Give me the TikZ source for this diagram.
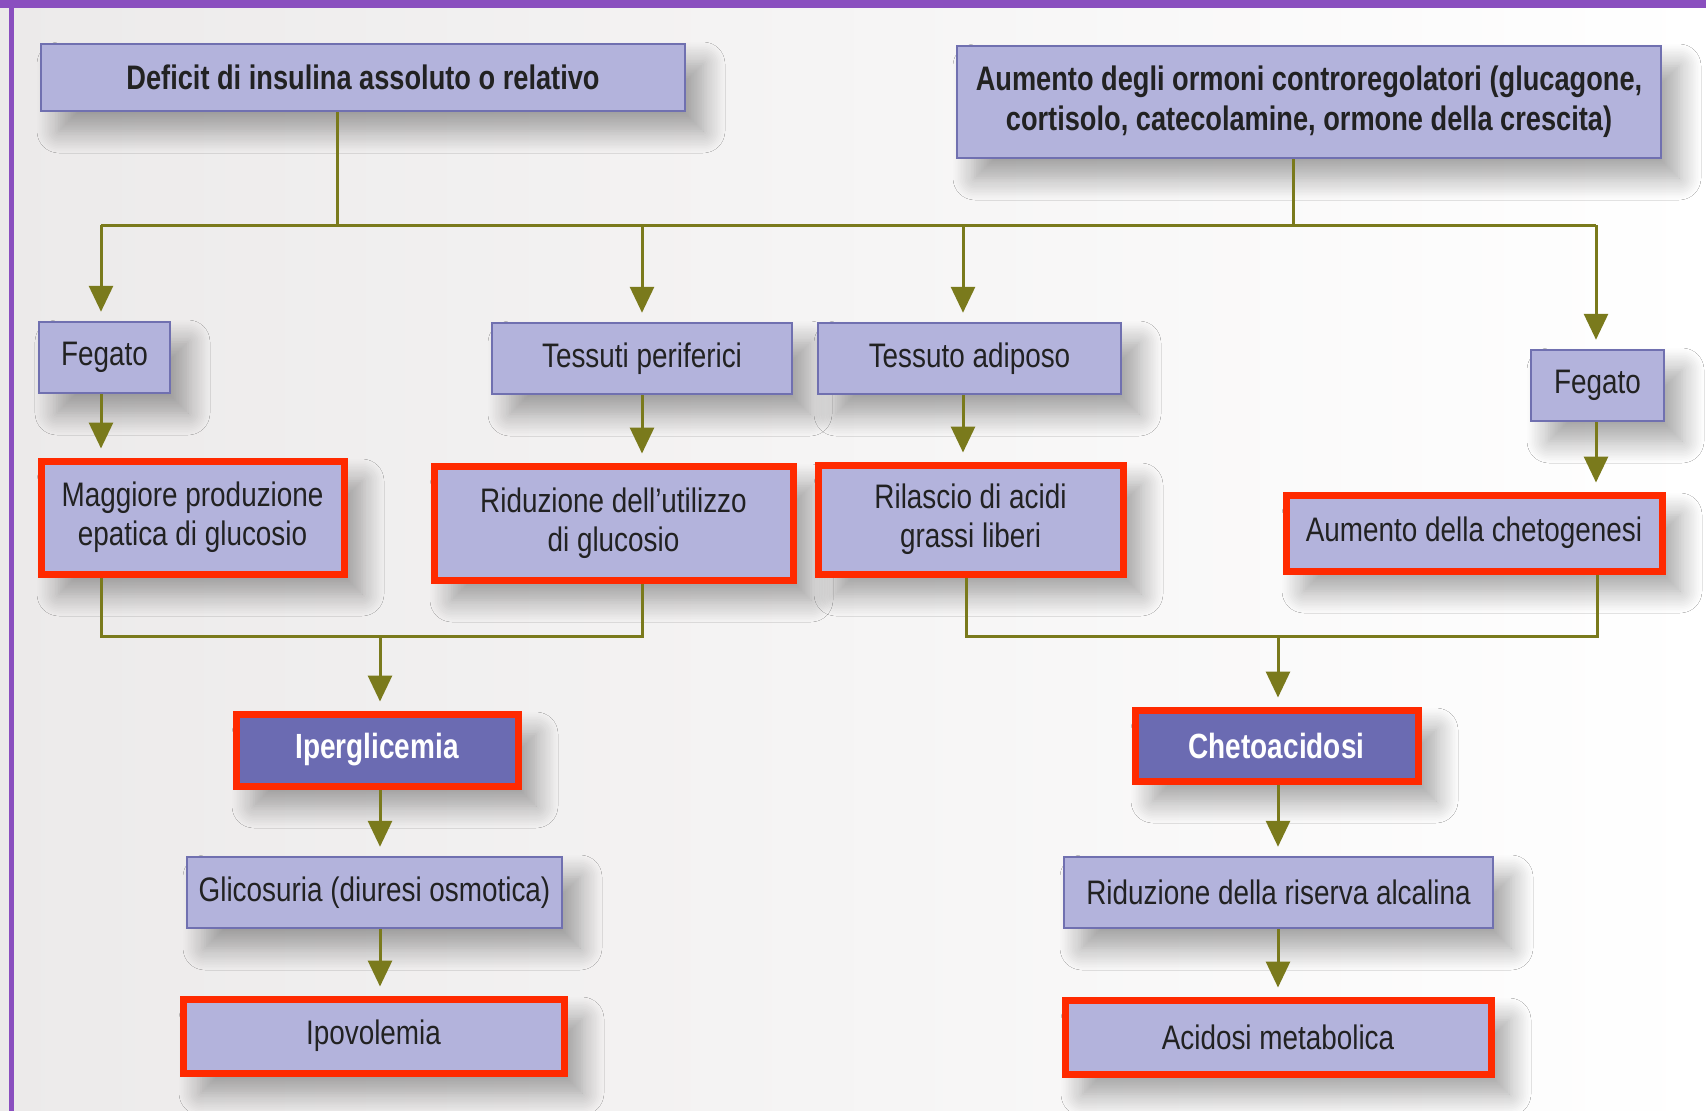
\documentclass[tikz,border=0pt]{standalone}
\usepackage{fontspec}
\setmainfont[FakeStretch=0.82, BoldFeatures={FakeStretch=0.8}]{Liberation Sans}
\usetikzlibrary{arrows.meta,shadows.blur}
\definecolor{boxfill}{HTML}{B3B3DC}
\definecolor{boxline}{HTML}{7070B0}
\definecolor{darkfill}{HTML}{6B6BB2}
\definecolor{redc}{HTML}{FF2A00}
\definecolor{olive}{HTML}{7A7A1C}
\definecolor{purp}{HTML}{8A4FBF}
\definecolor{bgl}{HTML}{ECEAEA}
\definecolor{txt}{HTML}{222222}
\tikzset{
  box/.style={draw=boxline, line width=2.5pt, fill=boxfill, align=center,
    text=txt, font=\fontsize{34}{39}\selectfont, inner sep=0pt,
    blur shadow={shadow xshift=18pt, shadow yshift=-20pt, shadow blur radius=22pt, shadow blur steps=14, shadow opacity=36}},
  redbox/.style={box, draw=redc, line width=7pt},
  darkbox/.style={redbox, fill=darkfill, text=white, font=\fontsize{35}{39}\selectfont\bfseries},
  boldbox/.style={box, font=\fontsize{34}{40}\selectfont\bfseries},
  conn/.style={draw=olive, line width=3pt},
  arr/.style={conn, -{Triangle[width=24pt,length=26pt]}, shorten >=9pt},
}
\begin{document}
\begin{tikzpicture}[x=1pt,y=-1pt]
\useasboundingbox (0,0) rectangle (1706,1111);
\shade[left color=bgl, right color=white] (0,0) rectangle (1706,1111);
\fill[purp] (0,0) rectangle (1706,8);
\fill[purp] (9,0) rectangle (14,1111);

% top boxes
\node[boldbox, minimum width=644pt, minimum height=67pt] (A) at (363,77.5) {Deficit di insulina assoluto o relativo};
\node[boldbox, minimum width=704pt, minimum height=112pt] (B) at (1309,102) {Aumento degli ormoni controregolatori (glucagone,\\cortisolo, catecolamine, ormone della crescita)};

% organs
\node[box, minimum width=131pt, minimum height=71pt] (F1) at (104.5,357.5) {Fegato};
\node[box, minimum width=300pt, minimum height=71pt] (TP) at (642,358.5) {Tessuti periferici};
\node[box, minimum width=303pt, minimum height=71pt] (TA) at (969.5,358.5) {Tessuto adiposo};
\node[box, minimum width=133pt, minimum height=71pt] (F2) at (1597.5,385.5) {Fegato};

% effects
\node[redbox, minimum width=303pt, minimum height=113pt] (MP) at (192.5,517.5) {Maggiore produzione\\epatica di glucosio};
\node[redbox, minimum width=359pt, minimum height=114pt] (RU) at (613.5,523) {Riduzione dell’utilizzo\\di glucosio};
\node[redbox, minimum width=305pt, minimum height=109pt] (RA) at (970.5,519.5) {Rilascio di acidi\\grassi liberi};
\node[redbox, minimum width=376pt, minimum height=76pt] (AC) at (1474,533) {Aumento della chetogenesi};

% outcomes
\node[darkbox, minimum width=282pt, minimum height=72pt] (IP) at (377,750) {Iperglicemia};
\node[darkbox, minimum width=283pt, minimum height=71pt] (CH) at (1276.5,745.5) {Chetoacidosi};
\node[box, minimum width=375pt, minimum height=71pt] (GL) at (374.5,892.5) {Glicosuria (diuresi osmotica)};
\node[redbox, minimum width=381pt, minimum height=74pt] (IV) at (373.5,1036) {Ipovolemia};
\node[box, minimum width=429pt, minimum height=71pt] (RR) at (1278.5,892.5) {Riduzione della riserva alcalina};
\node[redbox, minimum width=426pt, minimum height=74pt] (AM) at (1278,1037) {Acidosi metabolica};

% bus coordinates
\coordinate (ja) at (337,225);
\coordinate (jb) at (1293,225);
\coordinate (b1) at (101,225);
\coordinate (b2) at (642,225);
\coordinate (b3) at (963,225);
\coordinate (b4) at (1596,225);
\coordinate (l1) at (101,636);
\coordinate (l2) at (642,636);
\coordinate (lm) at (380,636);
\coordinate (r1) at (966,636);
\coordinate (r2) at (1597,636);
\coordinate (rm) at (1278,636);

\draw[conn] (ja |- A.south) -- (ja);
\draw[conn] (jb |- B.south) -- (jb);
\draw[conn] (b1) -- (b4);
\draw[arr] (b1) -- (b1 |- F1.north);
\draw[arr] (b2) -- (b2 |- TP.north);
\draw[arr] (b3) -- (b3 |- TA.north);
\draw[arr] (b4) -- (b4 |- F2.north);

\draw[arr] (b1 |- F1.south) -- (b1 |- MP.north);
\draw[arr] (b2 |- TP.south) -- (b2 |- RU.north);
\draw[arr] (b3 |- TA.south) -- (b3 |- RA.north);
\draw[arr] (b4 |- F2.south) -- (b4 |- AC.north);

\draw[conn] (l1 |- MP.south) -- (l1) -- (l2) -- (l2 |- RU.south);
\draw[arr] (lm) -- (lm |- IP.north);
\draw[conn] (r1 |- RA.south) -- (r1) -- (r2) -- (r2 |- AC.south);
\draw[arr] (rm) -- (rm |- CH.north);

\draw[arr] (lm |- IP.south) -- (lm |- GL.north);
\draw[arr] (lm |- GL.south) -- (lm |- IV.north);
\draw[arr] (rm |- CH.south) -- (rm |- RR.north);
\draw[arr] (rm |- RR.south) -- (rm |- AM.north);
\end{tikzpicture}
\end{document}
